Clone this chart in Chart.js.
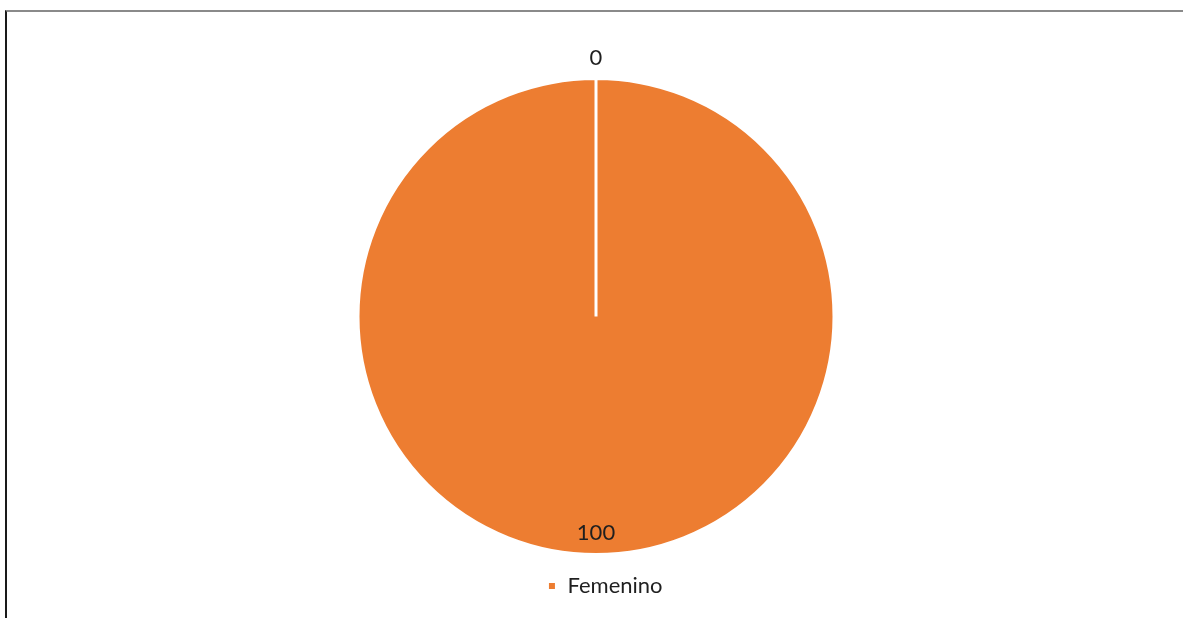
<!DOCTYPE html>
<html>
<head>
<meta charset="utf-8">
<script src="https://cdn.jsdelivr.net/npm/chart.js@4"></script>
<style>
  html, body { margin: 0; padding: 0; background: #fff; }
  #wrap { position: relative; width: 1183px; height: 618px; overflow: hidden; }
  #frame {
    position: absolute; left: 5px; top: 10px; width: 1200px; height: 640px;
    border-left: 2px solid #1a1a1a; border-top: 2px solid #8a8a8a;
  }
  canvas { position: absolute; left: 0; top: 0; }
</style>
</head>
<body>
<div id="wrap">
  <div id="frame"></div>
  <canvas id="chart" width="1183" height="618"></canvas>
</div>
<script>
// Gender split (percent)
const categories = ['Masculino', 'Femenino'];
const values = [0, 100];
const colors = ['#4472C4', '#ED7D31'];

const TEXT = '#1f1f1f';
const FONT = 'Lato, "Open Sans", sans-serif';

// Value labels: zero-size slices go outside the rim, the rest sit just inside it.
const sliceLabels = {
  id: 'sliceLabels',
  afterDatasetsDraw(chart) {
    const { ctx } = chart;
    const meta = chart.getDatasetMeta(0);
    ctx.save();
    ctx.font = `22px ${FONT}`;
    ctx.fillStyle = TEXT;
    ctx.textAlign = 'center';
    ctx.textBaseline = 'middle';
    meta.data.forEach((arc, i) => {
      const { x, y, startAngle, endAngle, outerRadius } = arc.getProps(
        ['x', 'y', 'startAngle', 'endAngle', 'outerRadius'], true);
      const mid = (startAngle + endAngle) / 2;
      const r = values[i] === 0 ? outerRadius + 21 : outerRadius - 22;
      ctx.fillText(String(values[i]), x + Math.cos(mid) * r, y + Math.sin(mid) * r);
    });
    ctx.restore();
  },
};

// Nudge the legend a little to the right of the pie's centre line.
const legendShift = {
  id: 'legendShift',
  afterLayout(chart) {
    if (!chart.legend) return;
    chart.legend.left += 9;
    chart.legend.right += 9;
  },
};

new Chart(document.getElementById('chart'), {
  type: 'pie',
  data: {
    labels: categories,
    datasets: [{
      data: values,
      backgroundColor: colors,
      borderColor: '#ffffff',
      borderWidth: 3,
    }],
  },
  options: {
    responsive: false,
    animation: false,
    layout: { padding: { top: 77, bottom: 11, left: 9, right: 0 } },
    plugins: {
      legend: {
        position: 'bottom',
        labels: {
          color: TEXT,
          font: { family: FONT, size: 22 },
          boxWidth: 9,
          boxHeight: 9,
          padding: 19,
          filter: (item, data) => data.datasets[0].data[item.index] !== 0,
        },
      },
      tooltip: { enabled: false },
    },
  },
  plugins: [sliceLabels, legendShift],
});
</script>
</body>
</html>
